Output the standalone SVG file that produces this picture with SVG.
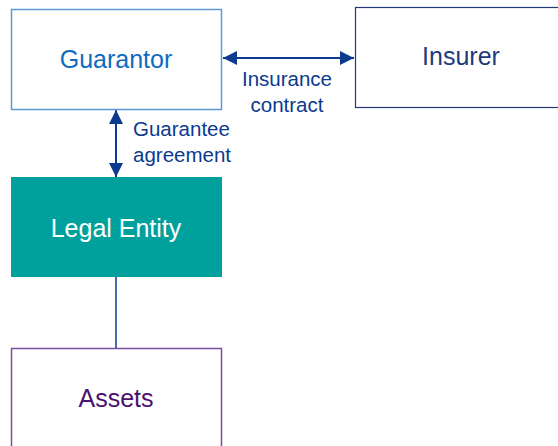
<svg xmlns="http://www.w3.org/2000/svg" width="558" height="446" viewBox="0 0 558 446">
<defs>
<marker id="ah" viewBox="0 0 10 10" refX="10" refY="5" markerWidth="14" markerHeight="14" orient="auto-start-reverse" markerUnits="userSpaceOnUse">
<path d="M0,0 L10,5 L0,10 z" fill="#0b3a8f"/>
</marker>
<style>
text{font-family:"Liberation Sans",Arial,sans-serif;text-anchor:middle;dominant-baseline:central}
.n{font-size:25px}
.l{font-size:20.5px;fill:#0b3a8f}
.c{stroke:#0b3a8f;stroke-width:2;fill:none}
</style>
</defs>
<rect width="558" height="446" fill="#fff"/>
<g id="connectors">
<line class="c" x1="223" y1="58" x2="354" y2="58" marker-start="url(#ah)" marker-end="url(#ah)"/>
<line class="c" x1="116" y1="110" x2="116" y2="177" marker-start="url(#ah)" marker-end="url(#ah)"/>
<line class="c" x1="116" y1="277" x2="116" y2="348" style="stroke-width:1.5"/>
<text class="l" x="287" y="78">Insurance</text>
<text class="l" x="287" y="104">contract</text>
<text class="l" x="133" y="128" style="text-anchor:start">Guarantee</text>
<text class="l" x="133" y="154" style="text-anchor:start">agreement</text>
</g>
<g id="guarantor">
<rect x="11.5" y="9.5" width="210" height="100" fill="#fff" stroke="#5b9bd5" stroke-width="1.5"/>
<text class="n" x="116" y="59" fill="#0e6cc0">Guarantor</text>
</g>
<g id="insurer">
<rect x="355.5" y="7.5" width="210" height="100" fill="#fff" stroke="#1f3a7a" stroke-width="1.2"/>
<text class="n" x="461" y="56" fill="#1f3a7a">Insurer</text>
</g>
<g id="legal-entity">
<rect x="11" y="177" width="211" height="100" fill="#00a19c"/>
<text class="n" x="116" y="228" fill="#fff">Legal Entity</text>
</g>
<g id="assets">
<rect x="11.5" y="348.5" width="210" height="100" fill="#fff" stroke="#7b4fa0" stroke-width="1.5"/>
<text class="n" x="116" y="398" fill="#4b1170">Assets</text>
</g>
</svg>
